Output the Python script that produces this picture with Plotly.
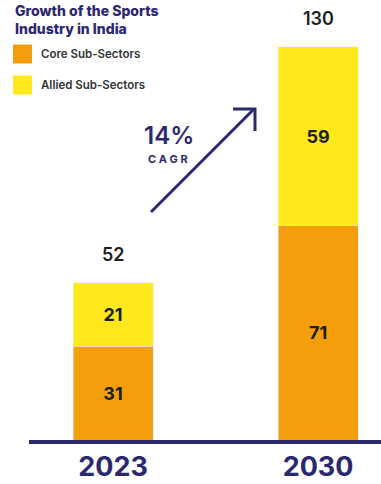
import plotly.graph_objects as go

years = ["2023", "2030"]
core = [31, 71]
allied = [21, 59]
totals = [52, 130]
series_names = ["Core Sub-Sectors", "Allied Sub-Sectors"]
title_text = "Growth of the Sports<br>Industry in India"
cagr_text = "14%"
cagr_label = "C A G R"

NAVY = "#2C2870"
ORANGE = "#F59E0C"
YELLOW = "#FFE91C"
DARK = "#1E1E1E"
FONT = "Inter, Open Sans, sans-serif"

W, H = 381, 484
ML, MB, MT = 29, 44, 0
PW, PH = W - ML, H - MB - MT


def px(x):
    return (x - ML) / PW


def py(y):
    return (H - MB - y) / PH


fig = go.Figure()
fig.add_trace(go.Bar(x=years, y=core, name=series_names[0], marker_color=ORANGE,
                     width=0.39, text=[str(v) for v in core], textposition="inside",
                     insidetextanchor="middle",
                     textfont=dict(family=FONT, size=18, color=DARK, weight=700)))
fig.add_trace(go.Bar(x=years, y=allied, name=series_names[1], marker_color=YELLOW,
                     width=0.39, text=[str(v) for v in allied], textposition="inside",
                     insidetextanchor="middle",
                     textfont=dict(family=FONT, size=18, color=DARK, weight=700)))

annotations = []
for i, t in enumerate(totals):
    annotations.append(dict(xref="x", yref="y", x=i, y=t, text=str(t), showarrow=False,
                            xanchor="center", yanchor="bottom", yshift=16,
                            font=dict(family=FONT, size=18, color=DARK, weight=600)))

annotations.append(dict(xref="paper", yref="paper", x=px(13), y=py(0), xanchor="left", yanchor="top",
                        text=title_text, showarrow=False, align="left",
                        font=dict(family=FONT, size=14, color=NAVY, weight=800)))
legend_colors = [ORANGE, YELLOW]
legend_y = [54, 85]
shapes = []
for name, col, ly in zip(series_names, legend_colors, legend_y):
    shapes.append(dict(type="rect", xref="paper", yref="paper", x0=px(13), x1=px(32),
                       y0=py(ly - 9.5), y1=py(ly + 9.5), fillcolor=col, line_width=0))
    annotations.append(dict(xref="paper", yref="paper", x=px(39), y=py(ly), xanchor="left",
                            yanchor="middle", text=name, showarrow=False,
                            font=dict(family=FONT, size=11.5, color="#333333", weight=600)))

# CAGR arrow
shapes.append(dict(type="line", xref="paper", yref="paper", x0=px(151), y0=py(212),
                   x1=px(254), y1=py(109), line=dict(color=NAVY, width=3)))
shapes.append(dict(type="path", xref="paper", yref="paper",
                   path=f"M {px(233)},{py(109)} L {px(255)},{py(109)} L {px(255)},{py(131)}",
                   line=dict(color=NAVY, width=3)))
annotations.append(dict(xref="paper", yref="paper", x=px(169), y=py(135.5), text=cagr_text,
                        xanchor="center", yanchor="middle", showarrow=False,
                        font=dict(family=FONT, size=24, color=NAVY, weight=600)))
annotations.append(dict(xref="paper", yref="paper", x=px(168), y=py(158.5), text=cagr_label,
                        xanchor="center", yanchor="middle", showarrow=False,
                        font=dict(family=FONT, size=11, color=NAVY, weight=700)))

fig.update_layout(
    barmode="stack", width=W, height=H, showlegend=False,
    margin=dict(l=ML, r=0, t=MT, b=MB),
    plot_bgcolor="white", paper_bgcolor="white",
    annotations=annotations, shapes=shapes,
    xaxis=dict(type="category", range=[-0.41, 1.307], showgrid=False, zeroline=False,
               showline=True, linecolor=NAVY, linewidth=4, ticks="",
               tickfont=dict(family=FONT, size=27, color=NAVY, weight=700)),
    yaxis=dict(range=[0, 145.5], showgrid=False, zeroline=False, showline=False,
               showticklabels=False, ticks=""),
)
fig.write_html("out.html")
